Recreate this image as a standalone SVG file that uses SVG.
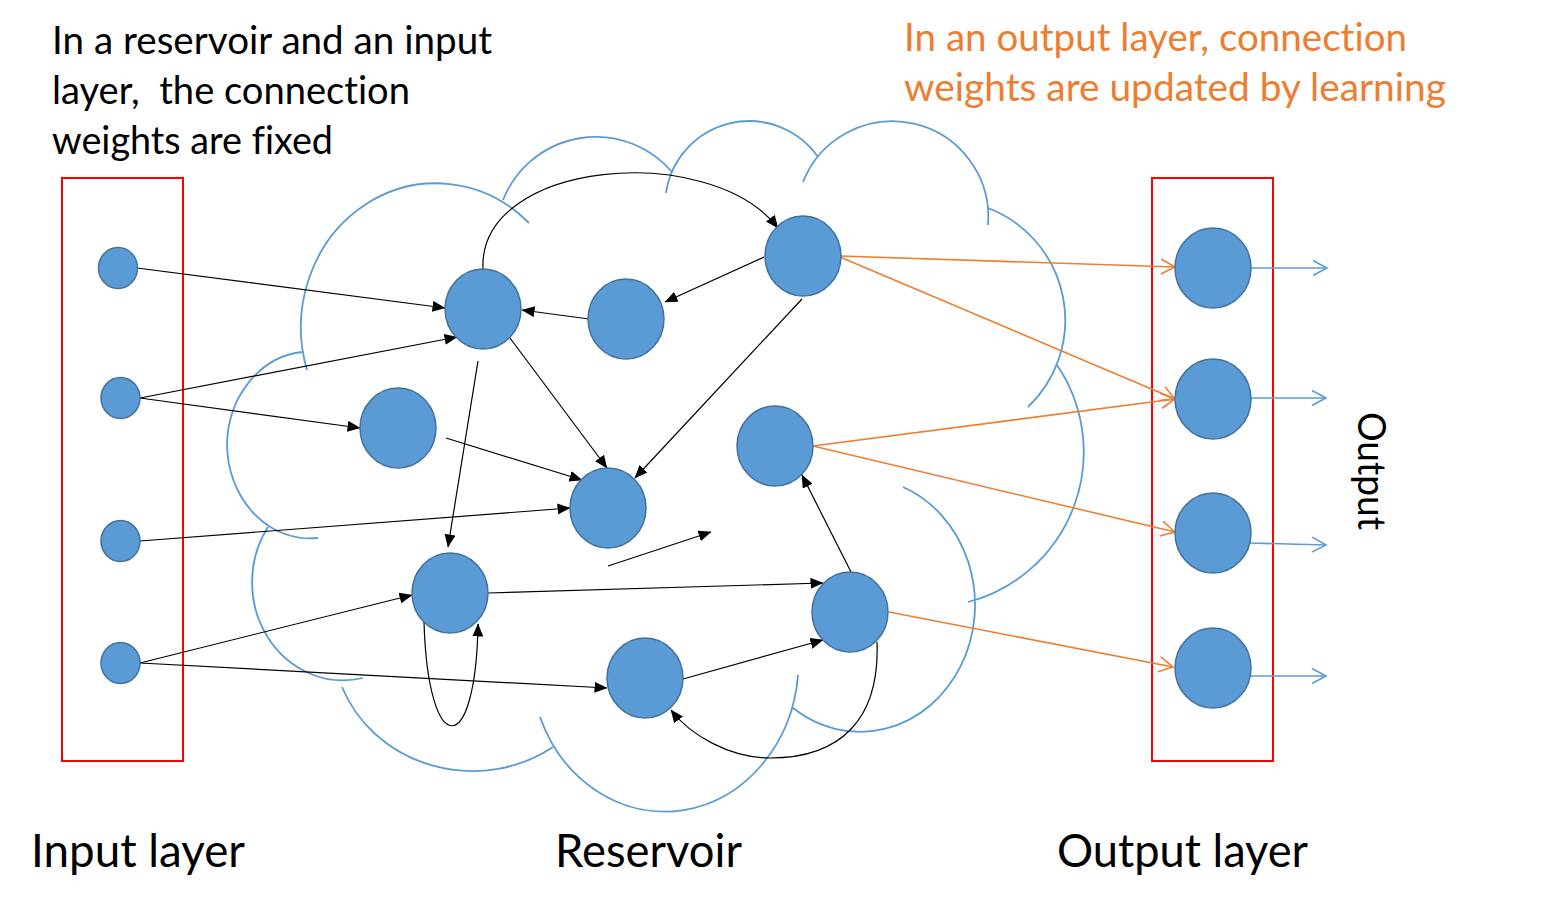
<svg xmlns="http://www.w3.org/2000/svg" width="1544" height="921" viewBox="0 0 1544 921">
<style>
.n{fill:#5B9BD5;stroke:#41719C;stroke-width:1.5}
.k{stroke:#000;stroke-width:1.2;fill:none}
.o{stroke:#ED7D31;stroke-width:1.6;fill:none}
.b{stroke:#5B9BD5;stroke-width:1.6;fill:none}
.cloud{stroke:#5B9BD5;stroke-width:1.8;fill:none}
.box{fill:none;stroke:#FF0000;stroke-width:2}
.t{font-family:Lato,"Open Sans","Liberation Sans",sans-serif;font-variant-ligatures:none;font-feature-settings:"liga" 0,"dlig" 0,"clig" 0}
</style>
<defs>
<marker id="ah" markerUnits="userSpaceOnUse" viewBox="0 0 13 11" markerWidth="13" markerHeight="11" refX="12.5" refY="5.5" orient="auto"><path d="M0,0 L13,5.5 L0,11 z" fill="#000"/></marker>
<marker id="oa" markerUnits="userSpaceOnUse" viewBox="-2 -2 18 19" markerWidth="18" markerHeight="19" refX="14" refY="7.5" orient="auto"><polyline points="0,0 14,7.5 0,15" fill="none" stroke="#ED7D31" stroke-width="1.6"/></marker>
<marker id="ba" markerUnits="userSpaceOnUse" viewBox="-2 -2 18 19" markerWidth="18" markerHeight="19" refX="14" refY="7.5" orient="auto"><polyline points="0,0 14,7.5 0,15" fill="none" stroke="#5B9BD5" stroke-width="1.6"/></marker>
</defs>
<rect width="1544" height="921" fill="#fff"/>

<g id="reservoir-cloud">
<path class="cloud" d="M307,370 A135,144 0 0 1 529,223 M503,200 A100,100 0 0 1 672,172 M666,193 A84,84 0 0 1 818,157 M803,182 A96,96 0 0 1 988,225 M988,208 A120,120 0 0 1 1028,407 M1057,365 A155,155 0 0 1 968,602 M903,487 A115,127 0 1 1 793,708 M798,675 A134,150 0 0 1 540,717 M553,747 A140,132 0 0 1 342,687 M363,678 A91,98 0 0 1 268,527 M318,538 A83,95 0 0 1 227,445 A83,95 0 0 1 302,352"/>
</g>

<g id="input-box"><rect class="box" x="62" y="178" width="121" height="583"/></g>
<g id="output-box"><rect class="box" x="1152" y="178" width="121" height="583"/></g>

<g id="connectors">
<line class="k" x1="137" y1="268" x2="445" y2="308" stroke-width="2" marker-end="url(#ah)"/>
<line class="k" x1="140" y1="398" x2="457" y2="337" marker-end="url(#ah)"/>
<line class="k" x1="140" y1="398" x2="360" y2="428" marker-end="url(#ah)"/>
<line class="k" x1="140" y1="541" x2="570" y2="508" marker-end="url(#ah)"/>
<line class="k" x1="140" y1="663" x2="412" y2="595" marker-end="url(#ah)"/>
<line class="k" x1="140" y1="663" x2="607" y2="688" marker-end="url(#ah)"/>
<line class="k" x1="589" y1="319" x2="522" y2="310" marker-end="url(#ah)"/>
<line class="k" x1="764" y1="257" x2="665" y2="302" marker-end="url(#ah)"/>
<path class="k" d="M483,269 C478,160 710,140 778,228" marker-end="url(#ah)"/>
<line class="k" x1="510" y1="338" x2="607" y2="468" marker-end="url(#ah)"/>
<line class="k" x1="446" y1="438" x2="582" y2="480" marker-end="url(#ah)"/>
<line class="k" x1="802" y1="299" x2="635" y2="478" marker-end="url(#ah)"/>
<line class="k" x1="478" y1="361" x2="448" y2="547" marker-end="url(#ah)"/>
<path class="k" d="M424,622 C428,760 476,760 478,624" marker-end="url(#ah)"/>
<line class="k" x1="488" y1="593" x2="823" y2="583" marker-end="url(#ah)"/>
<line class="k" x1="683" y1="679" x2="823" y2="640" marker-end="url(#ah)"/>
<line class="k" x1="851" y1="572" x2="802" y2="475" marker-end="url(#ah)"/>
<path class="k" d="M877,642 C880,720 840,758 770,758 C730,758 690,735 671,710" marker-end="url(#ah)"/>
<line class="k" x1="608" y1="566" x2="711" y2="532" marker-end="url(#ah)"/>
<line class="o" x1="840" y1="256" x2="1175" y2="267" marker-end="url(#oa)"/>
<line class="o" x1="840" y1="257" x2="1175" y2="399" marker-end="url(#oa)"/>
<line class="o" x1="813" y1="446" x2="1175" y2="399" marker-end="url(#oa)"/>
<line class="o" x1="813" y1="446" x2="1175" y2="532" marker-end="url(#oa)"/>
<line class="o" x1="889" y1="612" x2="1173" y2="667" marker-end="url(#oa)"/>
<line class="b" x1="1251" y1="268" x2="1327" y2="268" marker-end="url(#ba)"/>
<line class="b" x1="1251" y1="398" x2="1326" y2="398" marker-end="url(#ba)"/>
<line class="b" x1="1250" y1="543" x2="1326" y2="545" marker-end="url(#ba)"/>
<line class="b" x1="1250" y1="676" x2="1326" y2="676" marker-end="url(#ba)"/>
</g>

<g id="input-nodes">
<ellipse id="in1" class="n" cx="118" cy="268" rx="19.5" ry="20.5"/>
<ellipse id="in2" class="n" cx="120.5" cy="398" rx="19.5" ry="20.5"/>
<ellipse id="in3" class="n" cx="120.5" cy="541" rx="19.5" ry="20.5"/>
<ellipse id="in4" class="n" cx="120.5" cy="663" rx="19.5" ry="20.5"/>
</g>

<g id="reservoir-nodes">
<ellipse id="rA" class="n" cx="483" cy="309" rx="38" ry="40"/>
<ellipse id="rB" class="n" cx="626" cy="319" rx="38" ry="40"/>
<ellipse id="rC" class="n" cx="803" cy="256" rx="38" ry="40"/>
<ellipse id="rD" class="n" cx="398" cy="428" rx="38" ry="40"/>
<ellipse id="rE" class="n" cx="608" cy="508" rx="38" ry="40"/>
<ellipse id="rF" class="n" cx="450" cy="593" rx="38" ry="40"/>
<ellipse id="rG" class="n" cx="775" cy="446" rx="38" ry="40"/>
<ellipse id="rH" class="n" cx="850" cy="612" rx="38" ry="40"/>
<ellipse id="rJ" class="n" cx="645" cy="678" rx="38" ry="40"/>
</g>

<g id="output-nodes">
<ellipse id="out1" class="n" cx="1213" cy="268" rx="38" ry="40"/>
<ellipse id="out2" class="n" cx="1213" cy="399" rx="38" ry="40"/>
<ellipse id="out3" class="n" cx="1213" cy="533" rx="38" ry="40"/>
<ellipse id="out4" class="n" cx="1213" cy="668" rx="38" ry="40"/>
</g>

<g id="labels" class="t">
<text x="52" y="54" font-size="39" fill="#000" textLength="440" lengthAdjust="spacingAndGlyphs">In a reservoir and an input</text>
<text x="52" y="104" font-size="39" fill="#000" textLength="358" lengthAdjust="spacingAndGlyphs" xml:space="preserve">layer,  the connection</text>
<text x="52" y="154" font-size="39" fill="#000" textLength="281" lengthAdjust="spacingAndGlyphs">weights are fixed</text>
<text x="904" y="51" font-size="39" fill="#ED7D31" textLength="503" lengthAdjust="spacingAndGlyphs">In an output layer, connection</text>
<text x="904" y="101" font-size="39" fill="#ED7D31" textLength="542" lengthAdjust="spacingAndGlyphs">weights are updated by learning</text>
<text x="31" y="867" font-size="46" fill="#000" textLength="214" lengthAdjust="spacingAndGlyphs">Input layer</text>
<text x="555" y="867" font-size="46" fill="#000" textLength="187" lengthAdjust="spacingAndGlyphs">Reservoir</text>
<text x="1057" y="867" font-size="46" fill="#000" textLength="251" lengthAdjust="spacingAndGlyphs">Output layer</text>
<text transform="translate(1358,412) rotate(90)" x="0" y="0" font-size="39" fill="#000" textLength="118" lengthAdjust="spacingAndGlyphs">Output</text>
</g>
</svg>
